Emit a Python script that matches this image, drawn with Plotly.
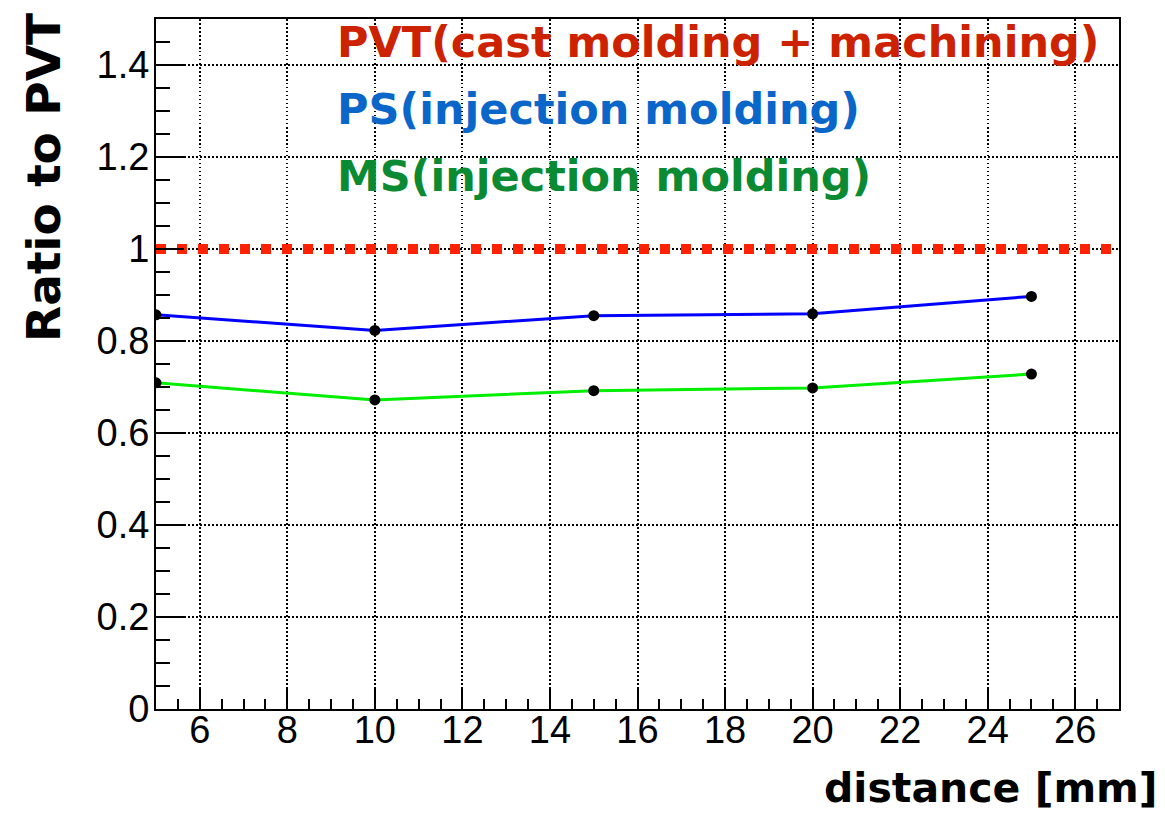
import plotly.graph_objects as go

# Measured ratios relative to PVT at each distance
distance = [5, 10, 15, 20, 25]
ps_ratio = [0.857, 0.823, 0.855, 0.859, 0.897]
ms_ratio = [0.709, 0.672, 0.692, 0.698, 0.728]

# PVT reference level across the full x range
pvt_x = [5, 27]
pvt_ratio = [1.0, 1.0]

x_ticks = [6, 8, 10, 12, 14, 16, 18, 20, 22, 24, 26]
y_ticks = [0, 0.2, 0.4, 0.6, 0.8, 1.0, 1.2, 1.4]
y_tick_labels = ["0", "0.2", "0.4", "0.6", "0.8", "1", "1.2", "1.4"]

legend_labels = ["PVT(cast molding + machining)", "PS(injection molding)", "MS(injection molding)"]
legend_colors = ["#cc2200", "#0a66c8", "#0a8a32"]

W, H = 1165, 813
ML, MR, MT, MB = 156, 46, 19, 104

def px_x(px):
    return (px - ML) / (W - ML - MR)

def px_y(py):
    return (H - MB - py) / (H - MT - MB)

fig = go.Figure()

fig.add_trace(go.Scatter(
    x=pvt_x, y=pvt_ratio, mode="lines",
    line=dict(color="#ff2200", width=10, dash="10px,11px"),
    hoverinfo="skip", showlegend=False,
))
fig.add_trace(go.Scatter(
    x=distance, y=ps_ratio, mode="lines+markers",
    line=dict(color="#0000ff", width=3),
    marker=dict(color="black", size=11),
    showlegend=False,
))
fig.add_trace(go.Scatter(
    x=distance, y=ms_ratio, mode="lines+markers",
    line=dict(color="#00ee00", width=3),
    marker=dict(color="black", size=11),
    showlegend=False,
))

tick_font = dict(family="Liberation Sans, Arial, Helvetica, sans-serif", size=38, color="black")
bold_font = "DejaVu Sans, sans-serif"

fig.update_xaxes(
    range=[5, 27], tickvals=x_ticks, ticks="inside", ticklen=22, tickwidth=1.5,
    tickcolor="black", showline=True, linecolor="black", linewidth=2, mirror=True,
    showgrid=True, gridcolor="black", gridwidth=1.5, griddash="1.5px,2.5px",
    zeroline=False, tickfont=tick_font, ticklabelstandoff=-14,
    minor=dict(dtick=0.5, tick0=5, ticks="inside", ticklen=10, tickwidth=1.5,
               tickcolor="black", showgrid=False),
)
fig.update_yaxes(
    range=[0, 1.5], tickvals=y_ticks, ticktext=y_tick_labels, ticks="inside",
    ticklen=28, tickwidth=1.5, tickcolor="black", showline=True, linecolor="black",
    linewidth=2, mirror=True, showgrid=True, gridcolor="black", gridwidth=1.5,
    griddash="2px,2px", zeroline=False, tickfont=tick_font, ticklabelstandoff=-3,
    minor=dict(dtick=0.05, tick0=0, ticks="inside", ticklen=14, tickwidth=1.5,
               tickcolor="black", showgrid=False),
)

annotations = []
for label, color, cy in zip(legend_labels, legend_colors, [42, 109, 176]):
    annotations.append(dict(
        text=f"<b>{label}</b>", x=px_x(335), y=px_y(cy), xref="paper", yref="paper",
        xanchor="left", yanchor="middle", showarrow=False,
        font=dict(family=bold_font, size=43, color=color),
    ))
annotations.append(dict(
    text="<b>Ratio to PVT</b>", x=px_x(43), y=px_y(178), xref="paper", yref="paper",
    xanchor="center", yanchor="middle", textangle=-90, showarrow=False,
    font=dict(family=bold_font, size=47, color="black"),
))
annotations.append(dict(
    text="<b>distance [mm]</b>", x=px_x(1160), y=px_y(788), xref="paper", yref="paper",
    xanchor="right", yanchor="middle", showarrow=False,
    font=dict(family=bold_font, size=41, color="black"),
))

fig.update_layout(
    width=W, height=H, margin=dict(l=ML, r=MR, t=MT, b=MB),
    paper_bgcolor="white", plot_bgcolor="white",
    annotations=annotations, showlegend=False,
)

fig.write_html("out.html")
